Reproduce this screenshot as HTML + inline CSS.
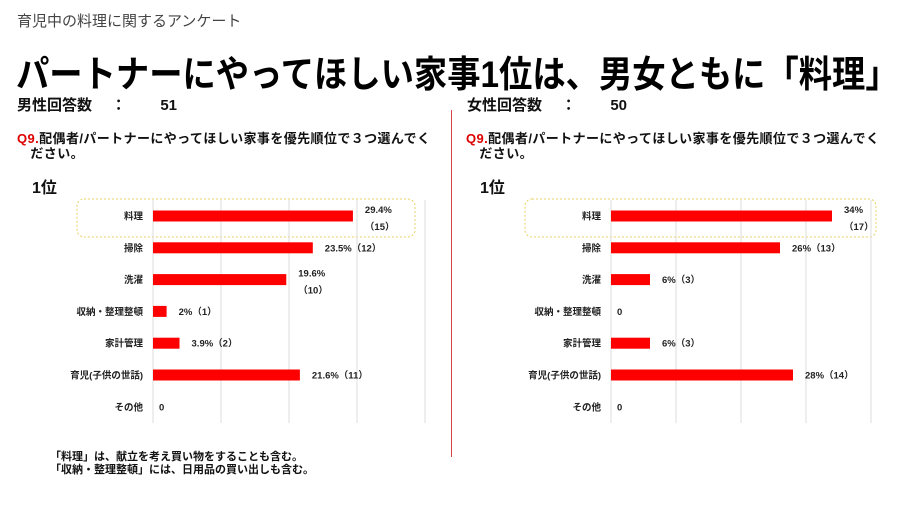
<!DOCTYPE html>
<html><head><meta charset="utf-8">
<style>
body{margin:0;width:900px;height:506px;background:#fff;font-family:"Liberation Sans","Noto Sans CJK JP",sans-serif;position:relative;overflow:hidden;color:#111}
.a{position:absolute;white-space:nowrap}
</style></head><body>
<div class="a" style="left:17px;top:10px;font-size:15px;color:#444">育児中の料理に関するアンケート</div>
<div class="a" style="left:16px;top:44px;font-size:37px;font-weight:bold;color:#000;transform:scaleX(0.9);transform-origin:0 0">パートナーにやってほしい家事1位は、男女ともに「料理」</div>
<div class="a" style="left:17px;top:94px;font-size:15px;font-weight:bold">男性回答数　 ：　　 51</div>
<div class="a" style="left:467px;top:94px;font-size:15px;font-weight:bold">女性回答数　 ：　　 50</div>
<div class="a" style="left:17px;top:131px;font-size:13px;font-weight:bold;line-height:15px;letter-spacing:0.4px"><span style="color:#d00">Q9.</span>配偶者/パートナーにやってほしい家事を優先順位で３つ選んでく<br>　ださい。</div>
<div class="a" style="left:466px;top:131px;font-size:13px;font-weight:bold;line-height:15px;letter-spacing:0.4px"><span style="color:#d00">Q9.</span>配偶者/パートナーにやってほしい家事を優先順位で３つ選んでく<br>　ださい。</div>
<div class="a" style="left:32px;top:174px;font-size:16px;font-weight:bold">1位</div>
<div class="a" style="left:480px;top:174px;font-size:16px;font-weight:bold">1位</div>
<div class="a" style="left:451px;top:110px;width:1px;height:347px;background:#d44"></div>
<div class="a" style="left:50px;top:451px;font-size:11px;font-weight:bold;line-height:13px">「料理」は、献立を考え買い物をすることも含む。<br>「収納・整理整頓」には、日用品の買い出しも含む。</div>
<svg id="chart" class="a" style="left:0;top:0" width="900" height="506"></svg>
<script>
const categories=["料理","掃除","洗濯","収納・整理整頓","家計管理","育児(子供の世話)","その他"];
const maleValues=[29.4,23.5,19.6,2,3.9,21.6,0];
const maleLabels=["29.4%","23.5%（12）","19.6%","2%（1）","3.9%（2）","21.6%（11）","0"];
const maleLabels2=["（15）","","（10）","","","",""];
const femaleValues=[34,26,6,0,6,28,0];
const femaleLabels=["34%","26%（13）","6%（3）","0","6%（3）","28%（14）","0"];
const femaleLabels2=["（17）","","","","","",""];
const gridTicks=[0,10,20,30,40];
const svg=document.getElementById('chart');
const NS='http://www.w3.org/2000/svg';
function mk(t,at){const e=document.createElementNS(NS,t);for(const k in at)e.setAttribute(k,at[k]);svg.appendChild(e);return e;}
function draw(prefix,x0,scale,vals,l1,l2,box){
  const y=i=>216+i*31.8;
  const b=mk('rect',{x:box[0],y:199,width:box[1]-box[0],height:38,rx:7,fill:'none',stroke:'#e8d060','stroke-dasharray':'2,2'});
  
  
  gridTicks.forEach(t=>{const g=mk('line',{x1:x0+t*scale,x2:x0+t*scale,y1:200,y2:423,stroke:'#ddd','stroke-width':1});
    
    });
  categories.forEach((c,i)=>{
    const yc=y(i);
    const t=mk('text',{x:x0-10,y:yc+3.5,'text-anchor':'end','font-size':'9.5','font-weight':'bold',fill:'#222'});t.textContent=c;
    
    
    const w=vals[i]*scale;
    if(w>0){const r=mk('rect',{x:x0,y:yc-5.5,width:w,height:11,fill:'#ff0000'});
      
      }
    const lx=x0+w+(w>0?12:6);
    const two=l2[i]!=="";
    const v=mk('text',{x:lx,y:two?yc-3:yc+3.5,'font-size':'9.5','font-weight':'bold',fill:'#222'});v.textContent=l1[i];
    
    
    if(two){const v2=mk('text',{x:lx,y:yc+14,'font-size':'9.5','font-weight':'bold',fill:'#222'});v2.textContent=l2[i];
      
      }
  });
}
draw('male',153,6.8,maleValues,maleLabels,maleLabels2,[77,415]);
draw('female',611,6.5,femaleValues,femaleLabels,femaleLabels2,[525,876]);
</script>
</body></html>
